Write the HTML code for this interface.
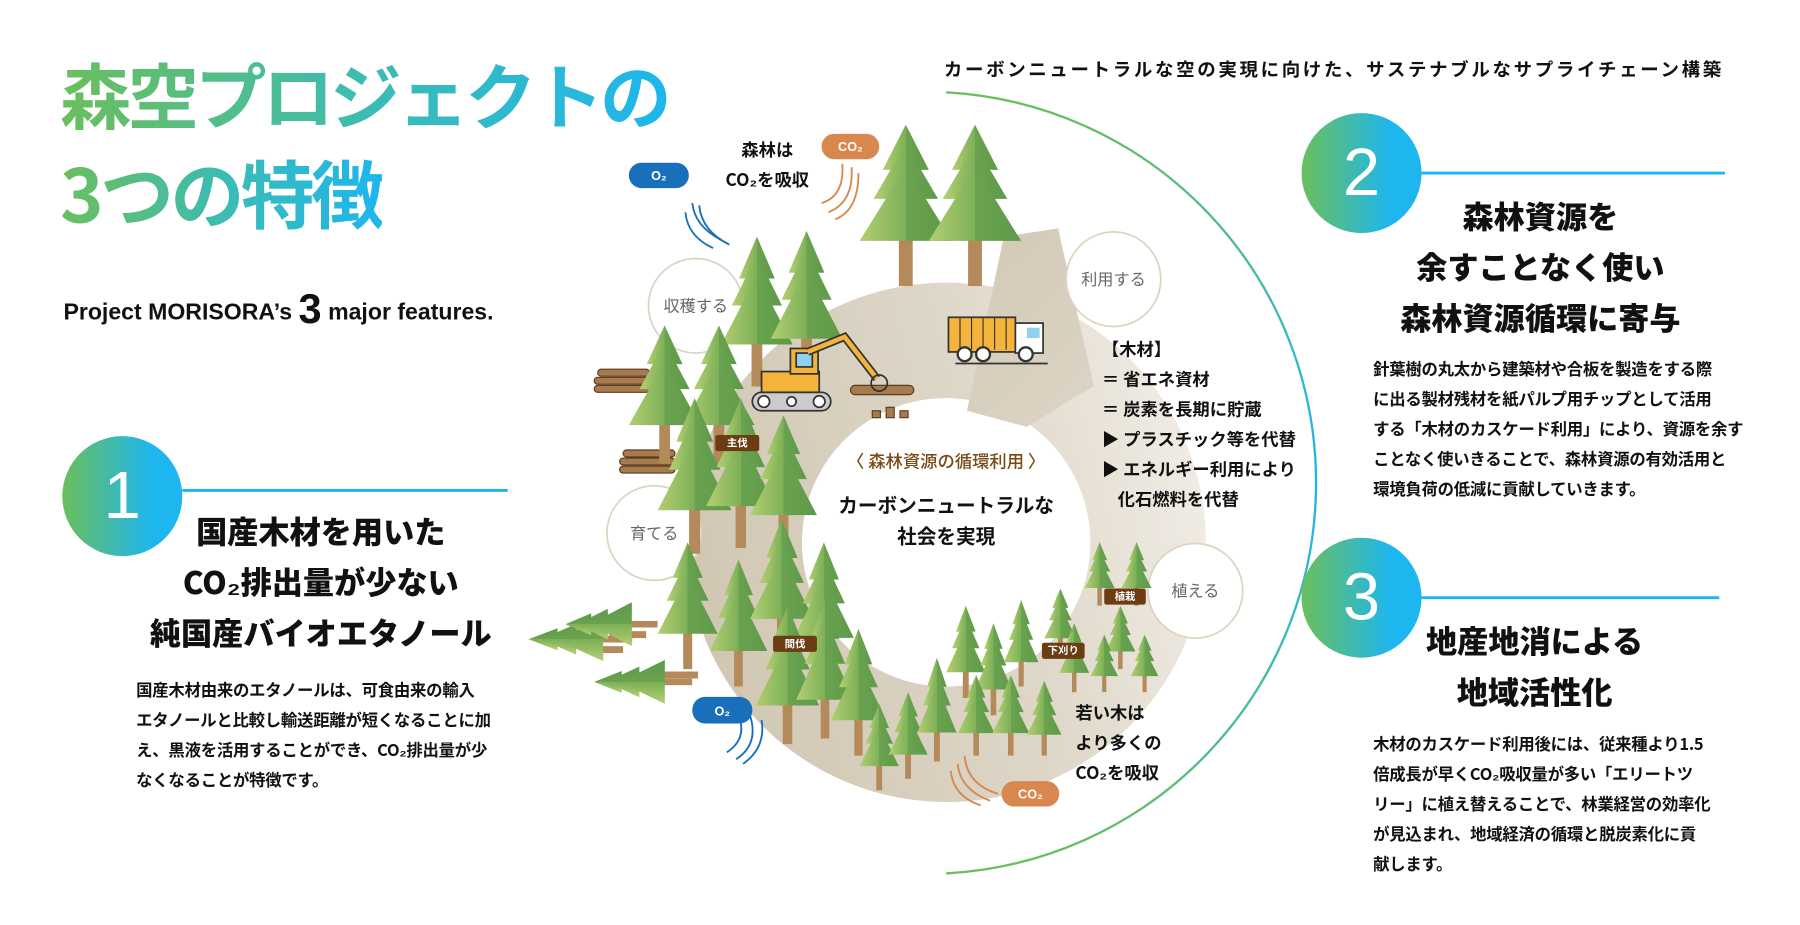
<!DOCTYPE html>
<html><head><meta charset="utf-8">
<style>
html,body{margin:0;padding:0;background:#fff;}
body{width:1800px;height:925px;overflow:hidden;position:relative;}
#w{position:absolute;left:0;top:0;width:1560px;height:802px;transform:scale(1.153846);transform-origin:0 0;font-family:"Liberation Sans","Noto Sans CJK JP",sans-serif;color:#111;}
.a{position:absolute;white-space:nowrap;}
.t{font-family:"Noto Sans CJK JP",sans-serif;font-weight:700;}
.grad{background:linear-gradient(90deg,#6bbf5c,#3cbcb2 50%,#1db6ee);-webkit-background-clip:text;background-clip:text;color:transparent;}
.h{font-family:"Noto Sans CJK JP",sans-serif;font-weight:900;font-size:27px;line-height:44px;text-align:center;}
.p{font-family:"Noto Sans CJK JP",sans-serif;font-weight:700;font-size:14.2px;line-height:26px;letter-spacing:-0.2px;}
.num{position:absolute;width:104px;height:104px;border-radius:50%;background:linear-gradient(90deg,#6bbf5c,#1db6ee 75%);color:#fff;font-family:"Liberation Sans",sans-serif;font-size:58px;line-height:104px;text-align:center;}
.lab{position:absolute;font-family:"Noto Sans CJK JP",sans-serif;font-size:14px;color:#666;text-align:center;}
.tag{position:absolute;background:#6b3d12;color:#fff;font-family:"Noto Sans CJK JP",sans-serif;font-size:9px;font-weight:700;line-height:14px;text-align:center;border-radius:2px;}
.lst{font-family:"Noto Sans CJK JP",sans-serif;font-weight:700;font-size:15px;line-height:26px;}
</style></head><body><div id="w">

<svg class="a" style="left:0;top:0" width="1560" height="802" viewBox="0 0 1560 802">
<defs>
<linearGradient id="lg" x1="0" x2="1"><stop offset="0" stop-color="#6bbf5c"/><stop offset="1" stop-color="#1db6ee"/></linearGradient>
<linearGradient id="arcg" x1="0" y1="0" x2="0" y2="1"><stop offset="0" stop-color="#6bbf5c"/><stop offset=".5" stop-color="#1db6ee"/><stop offset="1" stop-color="#6bbf5c"/></linearGradient>
<linearGradient id="ring" gradientUnits="userSpaceOnUse" x1="620" y1="260" x2="1020" y2="680"><stop offset="0" stop-color="#cdc3ae"/><stop offset=".55" stop-color="#ddd5c6"/><stop offset="1" stop-color="#f6f3ee"/></linearGradient>
<linearGradient id="tg" x1="0" x2="1"><stop offset="0" stop-color="#b4cf72"/><stop offset=".5" stop-color="#7db057"/><stop offset=".5" stop-color="#6aa34f"/><stop offset="1" stop-color="#5e9a4a"/></linearGradient>
<symbol id="tree" viewBox="0 0 40 100" preserveAspectRatio="none">
<rect x="17" y="60" width="6" height="40" fill="#b58a5a"/>
<polygon points="20,0 30,28 10,28" fill="url(#tg)"/>
<polygon points="20,12 34,46 6,46" fill="url(#tg)"/>
<polygon points="20,26 40,72 0,72" fill="url(#tg)"/>
</symbol>
</defs>
<line x1="820" y1="80" x2="1512" y2="80" stroke="url(#lg)" stroke-width="2"/>
<path d="M820,80 A339,339 0 0 1 820,757" fill="none" stroke="url(#arcg)" stroke-width="2"/>
<line x1="1232" y1="150" x2="1495" y2="150" stroke="#1db6ee" stroke-width="2.5"/>
<line x1="1232" y1="518" x2="1490" y2="518" stroke="#1db6ee" stroke-width="2.5"/>
<line x1="158" y1="425" x2="440" y2="425" stroke="#1db6ee" stroke-width="2.5"/>

<!-- ring -->
<circle cx="820" cy="470" r="175" fill="none" stroke="url(#ring)" stroke-width="100" stroke-dasharray="1054 1100" transform="rotate(-60 820 470)"/>
<polygon points="870,205 917,198 948,335 930,345 890,370 838,356" fill="url(#ring)"/>

<!-- stage circles -->
<circle cx="603" cy="265" r="41" fill="#fff" stroke="#ddd3c0" stroke-width="1.5"/>
<circle cx="965" cy="242" r="41" fill="#fff" stroke="#ddd3c0" stroke-width="1.5"/>
<circle cx="1036" cy="512" r="41" fill="#fff" stroke="#ddd3c0" stroke-width="1.5"/>
<circle cx="567" cy="462" r="41" fill="#fff" stroke="#ddd3c0" stroke-width="1.5"/>

<!-- logs -->
<g fill="#a67b4f" stroke="#5b3b1e" stroke-width="1">
<rect x="518" y="320" width="45" height="6" rx="3"/><rect x="515" y="327" width="48" height="6" rx="3"/><rect x="515" y="334" width="48" height="6" rx="3"/>
<rect x="540" y="390" width="45" height="6" rx="3"/><rect x="537" y="397" width="48" height="6" rx="3"/><rect x="537" y="404" width="48" height="6" rx="3"/>
<rect x="737" y="334" width="55" height="8" rx="4"/>
<rect x="756" y="356" width="7" height="6"/><rect x="768" y="353" width="7" height="9"/><rect x="780" y="356" width="7" height="6"/>
</g>
<!-- fallen trees -->
<g fill="#b58a5a"><rect x="528" y="547" width="32" height="6"/><rect x="510" y="560" width="30" height="6"/><rect x="575" y="582" width="30" height="6"/></g>
<use href="#tree" x="0" y="0" width="38" height="90" transform="translate(458,573) rotate(-90)"/>
<use href="#tree" x="0" y="0" width="38" height="80" transform="translate(490,560) rotate(-90)"/>
<use href="#tree" x="0" y="0" width="38" height="85" transform="translate(515,610) rotate(-90)"/>

<!-- trees -->
<g>
<use href="#tree" x="745" y="108" width="80" height="140"/>
<use href="#tree" x="805" y="108" width="80" height="140"/>
<use href="#tree" x="625" y="205" width="62" height="130"/>
<use href="#tree" x="668" y="200" width="62" height="130"/>
<use href="#tree" x="545" y="282" width="62" height="120"/>
<use href="#tree" x="592" y="282" width="62" height="120"/>
<use href="#tree" x="570" y="345" width="64" height="135"/>
<use href="#tree" x="612" y="345" width="60" height="130"/>
<use href="#tree" x="650" y="360" width="58" height="120"/>
<use href="#tree" x="570" y="470" width="52" height="110"/>
<use href="#tree" x="615" y="485" width="50" height="110"/>
<use href="#tree" x="650" y="450" width="55" height="120"/>
<use href="#tree" x="688" y="470" width="52" height="115"/>
<use href="#tree" x="655" y="525" width="55" height="120"/>
<use href="#tree" x="690" y="520" width="50" height="120"/>
<use href="#tree" x="720" y="545" width="48" height="110"/>
<use href="#tree" x="745" y="610" width="34" height="75"/>
<use href="#tree" x="770" y="600" width="34" height="75"/>
<use href="#tree" x="795" y="570" width="34" height="90"/>
<use href="#tree" x="820" y="525" width="34" height="80"/>
<use href="#tree" x="845" y="540" width="32" height="80"/>
<use href="#tree" x="830" y="585" width="32" height="70"/>
<use href="#tree" x="870" y="520" width="30" height="75"/>
<use href="#tree" x="860" y="585" width="32" height="70"/>
<use href="#tree" x="890" y="590" width="30" height="65"/>
<use href="#tree" x="905" y="510" width="28" height="60"/>
<use href="#tree" x="940" y="470" width="26" height="55"/>
<use href="#tree" x="972" y="470" width="26" height="55"/>
<use href="#tree" x="958" y="525" width="26" height="55"/>
<use href="#tree" x="918" y="540" width="26" height="60"/>
<use href="#tree" x="945" y="550" width="24" height="50"/>
<use href="#tree" x="980" y="550" width="24" height="50"/>
</g>

<!-- truck -->
<g>
<rect x="822" y="275" width="58" height="30" fill="#f4b43c" stroke="#333" stroke-width="1.5"/>
<g stroke="#333" stroke-width="1"><line x1="832" y1="275" x2="832" y2="303"/><line x1="842" y1="275" x2="842" y2="303"/><line x1="852" y1="275" x2="852" y2="303"/><line x1="862" y1="275" x2="862" y2="303"/><line x1="872" y1="275" x2="872" y2="303"/></g>
<rect x="880" y="280" width="24" height="26" fill="#fff" stroke="#333" stroke-width="1.5"/>
<rect x="890" y="284" width="11" height="9" fill="#8fd0ee"/>
<circle cx="836" cy="307" r="6" fill="#fff" stroke="#333" stroke-width="2"/><circle cx="852" cy="307" r="6" fill="#fff" stroke="#333" stroke-width="2"/><circle cx="889" cy="307" r="6" fill="#fff" stroke="#333" stroke-width="2"/>
<line x1="828" y1="315" x2="908" y2="315" stroke="#333" stroke-width="1.5"/>
</g>
<!-- excavator -->
<g stroke="#333" stroke-width="1.5">
<rect x="652" y="340" width="68" height="16" rx="8" fill="#ccc"/>
<circle cx="662" cy="348" r="5" fill="#fff"/><circle cx="710" cy="348" r="5" fill="#fff"/><circle cx="686" cy="348" r="4" fill="#fff"/>
<rect x="660" y="322" width="50" height="18" fill="#f4b43c"/>
<rect x="685" y="302" width="24" height="22" fill="#f4b43c"/>
<rect x="690" y="306" width="14" height="12" fill="#8fd0ee"/>
<polyline points="700,305 732,292 760,328" fill="none" stroke="#333" stroke-width="7"/>
<polyline points="700,305 732,292 760,328" fill="none" stroke="#f4b43c" stroke-width="4"/>
<circle cx="762" cy="332" r="7" fill="none"/>
</g>

<!-- O2/CO2 clouds -->
<g font-family="Liberation Sans,sans-serif" font-size="11" font-weight="700" fill="#fff" text-anchor="middle">
<rect x="545" y="141" width="52" height="22" rx="11" fill="#1a6fba"/><text x="571" y="156">O₂</text>
<rect x="712" y="116" width="50" height="22" rx="11" fill="#d8874f"/><text x="737" y="131">CO₂</text>
<rect x="600" y="604" width="52" height="23" rx="11" fill="#1a6fba"/><text x="626" y="620">O₂</text>
<rect x="868" y="677" width="50" height="22" rx="11" fill="#d8874f"/><text x="893" y="692">CO₂</text>
</g>
<g fill="none" stroke-width="1.6">
<g stroke="#1a6fba"><path d="M632,212 Q608,200 606,178"/><path d="M625,208 Q602,196 600,176" /><path d="M618,215 Q596,205 594,184"/>
<path d="M640,620 Q648,640 630,652"/><path d="M650,620 Q658,645 638,658"/><path d="M660,624 Q664,648 644,662"/></g>
<g stroke="#d8874f"><path d="M730,142 Q732,170 712,176"/><path d="M738,145 Q740,175 718,184"/><path d="M744,150 Q744,182 724,190"/>
<path d="M865,688 Q838,680 836,655"/><path d="M858,694 Q832,684 830,662"/><path d="M850,698 Q826,690 824,668"/></g>
</g>
</svg>

<!-- title -->
<div class="a t grad" style="left:52px;top:40px;font-size:62px;line-height:80px;letter-spacing:-3.5px;">森空プロジェクトの</div>
<div class="a t grad" style="left:52px;top:126px;font-size:64px;line-height:80px;letter-spacing:-3px;">3つの特徴</div>
<div class="a" style="left:55px;top:248px;font-size:20px;font-weight:700;line-height:40px;">Project MORISORA’s <span style="font-size:36px;vertical-align:-3px">3</span> major features.</div>

<div class="a t" style="left:818px;top:48px;font-size:16px;font-weight:700;line-height:22px;letter-spacing:2.3px;">カーボンニュートラルな空の実現に向けた、サステナブルなサプライチェーン構築</div>

<!-- numbers -->
<div class="num" style="left:54px;top:378px;">1</div>
<div class="num" style="left:1128px;top:98px;">2</div>
<div class="num" style="left:1128px;top:466px;">3</div>

<div class="a h" style="left:118px;top:438px;width:320px;">国産木材を用いた<br>CO₂排出量が少ない<br>純国産バイオエタノール</div>
<div class="a p" style="left:118px;top:585px;">国産木材由来のエタノールは、可食由来の輸入<br>エタノールと比較し輸送距離が短くなることに加<br>え、黒液を活用することができ、CO₂排出量が少<br>なくなることが特徴です。</div>

<div class="a h" style="left:1185px;top:165px;width:300px;">森林資源を<br>余すことなく使い<br>森林資源循環に寄与</div>
<div class="a p" style="left:1190px;top:307px;">針葉樹の丸太から建築材や合板を製造をする際<br>に出る製材残材を紙パルプ用チップとして活用<br>する「木材のカスケード利用」により、資源を余す<br>ことなく使いきることで、森林資源の有効活用と<br>環境負荷の低減に貢献していきます。</div>

<div class="a h" style="left:1180px;top:533px;width:300px;">地産地消による<br>地域活性化</div>
<div class="a p" style="left:1190px;top:632px;">木材のカスケード利用後には、従来種より1.5<br>倍成長が早くCO₂吸収量が多い「エリートツ<br>リー」に植え替えることで、林業経営の効率化<br>が見込まれ、地域経済の循環と脱炭素化に貢<br>献します。</div>

<!-- diagram labels -->
<div class="lab" style="left:563px;top:255px;width:80px;">収穫する</div>
<div class="lab" style="left:925px;top:232px;width:80px;">利用する</div>
<div class="lab" style="left:996px;top:502px;width:80px;">植える</div>
<div class="lab" style="left:527px;top:452px;width:80px;">育てる</div>

<div class="tag" style="left:620px;top:377px;width:38px;">主伐</div>
<div class="tag" style="left:670px;top:551px;width:38px;">間伐</div>
<div class="tag" style="left:957px;top:510px;width:36px;">植栽</div>
<div class="tag" style="left:903px;top:557px;width:37px;">下刈り</div>

<div class="a lst" style="left:620px;top:117px;width:90px;text-align:center;">森林は<br>CO₂を吸収</div>
<div class="a t" style="left:700px;top:388px;width:240px;text-align:center;font-size:15px;font-weight:500;color:#7a4a14;line-height:24px;">〈 森林資源の循環利用 〉</div>
<div class="a t" style="left:700px;top:423px;width:240px;text-align:center;font-size:17px;line-height:27px;">カーボンニュートラルな<br>社会を実現</div>
<div class="a lst" style="left:955px;top:290px;">【木材】<br>＝ 省エネ資材<br>＝ 炭素を長期に貯蔵<br>▶ プラスチック等を代替<br>▶ エネルギー利用により<br>&nbsp;&nbsp;&nbsp;&nbsp;化石燃料を代替</div>
<div class="a lst" style="left:932px;top:605px;">若い木は<br>より多くの<br>CO₂を吸収</div>

</div></body></html>
